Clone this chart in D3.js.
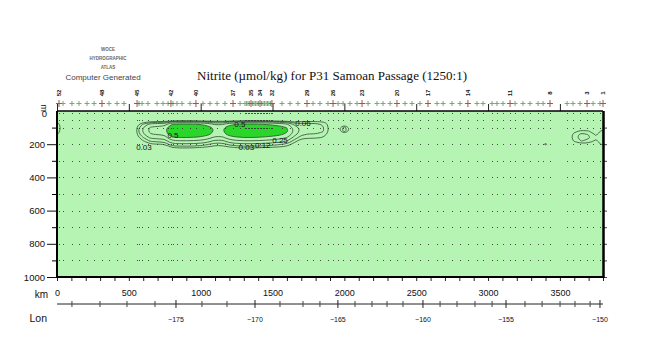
<!DOCTYPE html>
<html><head><meta charset="utf-8">
<script src="https://cdn.jsdelivr.net/npm/d3@7"></script>
<style>body{margin:0;background:#fff;} svg{display:block;}</style>
</head><body>
<svg id="c" width="650" height="350"></svg>
<script>
// ---------------- data ----------------
const kmTicks = [0, 500, 1000, 1500, 2000, 2500, 3000, 3500];
const kmMinorTicks = d3.range(0, 3801, 100);
const depthTicks = [200, 400, 600, 800, 1000];
const depthMinorTicks = [100, 300, 500, 700, 900];
const lonMajor = [-175, -170, -165, -160, -155, -150];
const lonMajorKm = [828, 1378, 1955, 2547, 3125, 3779];
const lonMinorKm = [104, 299, 487, 682, 1009, 1183, 1552, 1712, 1830, 2074, 2192, 2297, 2408, 2666, 2784, 2909, 3028, 3257, 3376, 3501, 3605, 3710];
const stationKm = [14, 42, 104, 153, 209, 258, 313, 362, 418, 466, 557, 571, 592, 633, 696, 738, 773, 793, 807, 835, 870, 926, 967, 1016, 1065, 1114, 1169, 1225, 1274, 1308, 1350, 1413, 1496, 1566, 1622, 1677, 1740, 1782, 1830, 1886, 1921, 1956, 1991, 2039, 2088, 2123, 2165, 2227, 2269, 2318, 2366, 2422, 2471, 2526, 2582, 2645, 2687, 2749, 2805, 2860, 2923, 2965, 3028, 3062, 3104, 3153, 3188, 3243, 3292, 3348, 3383, 3431, 3550, 3591, 3640, 3689, 3731, 3779, 3800];
const clusterKm = [1318, 1329, 1339, 1360, 1371, 1381, 1392, 1402, 1423, 1434, 1444, 1455, 1465, 1475, 1486];
const labeledKm = [14, 313, 557, 793, 967, 1225, 1350, 1413, 1496, 1740, 1921, 2123, 2366, 2582, 2860, 3153, 3431, 3689, 3800];
const labeledNum = ["52", "48", "45", "42", "40", "37", "35", "34", "32", "29", "26", "23", "20", "17", "14", "11", "8", "3", "1"];
const dotDepths = [15, 55, 100, 200, 300, 400, 500, 600, 700, 800, 900];
const shallowDepths = [15, 55, 100];

// nitrite grid (umol/kg): columns at gridKm, one array per depth
const gridKm = [0, 50, 500, 550, 600, 650, 700, 750, 800, 850, 900, 950, 1000, 1050, 1100, 1150, 1200, 1250, 1300, 1350, 1400, 1450, 1500, 1550, 1600, 1650, 1700, 1750, 1800, 1850, 1900, 1950, 2000, 2050, 3350, 3400, 3450, 3550, 3600, 3650, 3700, 3750, 3800];
const gridDepth = [40, 60, 70, 80, 100, 120, 140, 160, 180, 200, 220, 250];
const no2_40  = [0,0, 0,0,0,0,0,0, 0,0,0,0,0,0, 0,0,0,0,0,0, 0,0,0,0,0,0, 0,0,0,0,0,0,0,0, 0,0,0, 0,0,0,0,0,0];
const no2_60  = [0,0, 0,0.001,0.004,0.009,0.01,0.011, 0.028,0.033,0.033,0.032,0.029,0.022, 0.014,0.014,0.024,0.029,0.033,0.033, 0.032,0.029,0.026,0.022,0.017,0.006, 0.02,0.02,0.02,0.015,0.005,0,0,0, 0,0,0, 0,0,0,0,0,0];
const no2_70  = [0.035,0, 0,0.004,0.026,0.06,0.066,0.072, 0.2,0.22,0.22,0.21,0.19,0.144, 0.09,0.09,0.16,0.2,0.22,0.22, 0.21,0.19,0.17,0.144,0.11,0.04, 0.05,0.05,0.05,0.04,0.012,0,0,0, 0,0,0, 0,0,0,0,0,0];
const no2_80  = [0.045,0, 0,0.01,0.065,0.15,0.165,0.18, 0.49,0.55,0.55,0.525,0.475,0.36, 0.225,0.225,0.4,0.49,0.55,0.55, 0.525,0.475,0.425,0.36,0.275,0.1, 0.07,0.07,0.07,0.055,0.015,0,0.01,0, 0,0,0, 0,0,0,0,0,0];
const no2_100 = [0.055,0, 0,0.018,0.117,0.27,0.297,0.324, 0.9,0.99,0.99,0.945,0.855,0.648, 0.405,0.405,0.72,0.9,0.99,0.99, 0.945,0.855,0.765,0.648,0.495,0.18, 0.09,0.08,0.08,0.065,0.018,0,0.08,0, 0,0,0, 0,0,0,0,0,0];
const no2_120 = [0.05,0, 0,0.02,0.13,0.3,0.33,0.36, 1.0,1.1,1.1,1.05,0.95,0.72, 0.45,0.45,0.8,1.0,1.1,1.1, 1.05,0.95,0.85,0.72,0.55,0.2, 0.09,0.08,0.08,0.065,0.018,0,0.08,0, 0,0,0, 0,0.02,0.035,0.03,0.01,0.04];
const no2_140 = [0.035,0, 0,0.016,0.104,0.24,0.264,0.288, 0.8,0.88,0.88,0.84,0.76,0.576, 0.36,0.36,0.64,0.8,0.88,0.88, 0.84,0.76,0.68,0.576,0.44,0.16, 0.07,0.058,0.058,0.05,0.014,0,0.01,0, 0,0,0, 0,0.04,0.07,0.058,0.025,0.05];
const no2_160 = [0,0, 0,0.009,0.059,0.135,0.149,0.162, 0.45,0.495,0.495,0.473,0.428,0.324, 0.203,0.203,0.36,0.45,0.495,0.495, 0.473,0.428,0.383,0.324,0.248,0.09, 0.04,0.035,0.035,0.028,0.008,0,0,0, 0,0,0, 0,0.045,0.08,0.065,0.035,0.04];
const no2_180 = [0,0, 0,0.004,0.029,0.066,0.073,0.079, 0.22,0.242,0.242,0.231,0.209,0.158, 0.099,0.099,0.176,0.22,0.242,0.242, 0.231,0.209,0.187,0.158,0.121,0.044, 0.015,0.01,0.01,0.008,0,0,0,0, 0,0,0, 0,0.035,0.062,0.05,0.025,0.05];
const no2_200 = [0,0, 0,0.002,0.012,0.027,0.029,0.032, 0.09,0.099,0.099,0.095,0.086,0.065, 0.041,0.041,0.072,0.09,0.099,0.099, 0.095,0.086,0.077,0.065,0.05,0.018, 0.005,0,0,0,0,0,0,0, 0,0.04,0, 0,0.01,0.02,0.015,0.01,0.04];
const no2_220 = [0,0, 0,0,0.004,0.009,0.01,0.011, 0.029,0.033,0.033,0.032,0.029,0.022, 0.014,0.014,0.024,0.031,0.033,0.033, 0.032,0.029,0.026,0.022,0.017,0.006, 0,0,0,0,0,0,0,0, 0,0,0, 0,0,0,0,0,0.01];
const no2_250 = [0,0, 0,0,0,0,0,0, 0,0,0,0,0,0, 0,0,0,0,0,0, 0,0,0,0,0,0, 0,0,0,0,0,0,0,0, 0,0,0, 0,0,0,0,0,0];
const contourLevels = [0.03, 0.06, 0.12, 0.25, 0.5];
const labelText  = ["0.5", "0.5", "0.06", "0.03", "0.03", "0.12", "0.25"];
const labelKm    = [807, 1273, 1712, 605, 1318, 1432, 1552];
const labelDepth = [150, 84, 78, 217, 220, 208, 176];

// ---------------- drawing ----------------
const svg = d3.select("#c");
const x = d3.scaleLinear().domain([0, 3800]).range([57, 603]);
const y = d3.scaleLinear().domain([0, 1000]).range([111, 277]);
const SANS = "'Liberation Sans', Arial, sans-serif";

svg.append("defs").append("clipPath").attr("id", "plotclip")
  .append("rect").attr("x", x(0)).attr("y", y(0))
  .attr("width", x(3800) - x(0)).attr("height", y(1000) - y(0));

svg.append("rect").attr("x", x(0)).attr("y", y(0))
  .attr("width", x(3800) - x(0)).attr("height", y(1000) - y(0))
  .attr("fill", "#b6f4b4");

// contours
const rows = [no2_40, no2_60, no2_70, no2_80, no2_100, no2_120, no2_140, no2_160, no2_180, no2_200, no2_220, no2_250];
const nx = gridKm.length, ny = gridDepth.length;
const iKm = d3.scaleLinear().domain(d3.range(nx)).range(gridKm).clamp(true);
const iDep = d3.scaleLinear().domain(d3.range(ny)).range(gridDepth).clamp(true);
const cont = d3.contours().size([nx, ny]).thresholds(contourLevels)(rows.flat());
const ringLine = d3.line().curve(d3.curveBasisClosed);
function ringPath(ring) {
  const pts = ring.slice(0, -1).map(([cx, cy]) => [x(iKm(cx - 0.5)), y(iDep(cy - 0.5))]);
  return ringLine(pts);
}
function mpPath(mp) { return mp.coordinates.map(poly => poly.map(ringPath).join("")).join(""); }

const cg = svg.append("g").attr("clip-path", "url(#plotclip)");
cg.selectAll("path.fill").data(cont.filter(c => c.value === 0.5)).join("path")
  .attr("class", "fill").attr("d", mpPath).attr("fill", "#2bd62b").attr("fill-rule", "evenodd");
cg.selectAll("path.line").data(cont).join("path")
  .attr("class", "line").attr("d", mpPath).attr("fill", "none")
  .attr("stroke", "#2f4a2f").attr("stroke-width", 0.8);

// sample dots
const dg = svg.append("g").attr("fill", "#333").attr("fill-opacity", 0.85);
stationKm.forEach(k => dotDepths.forEach(d =>
  dg.append("rect").attr("x", Math.round(x(k))).attr("y", Math.round(y(d))).attr("width", 1).attr("height", 1)));
clusterKm.forEach(k => shallowDepths.forEach(d =>
  dg.append("rect").attr("x", Math.round(x(k))).attr("y", Math.round(y(d))).attr("width", 1).attr("height", 1)));

// contour labels
svg.append("g").selectAll("text").data(labelText).join("text")
  .attr("x", (t, i) => x(labelKm[i])).attr("y", (t, i) => y(labelDepth[i]))
  .attr("text-anchor", "middle").attr("dominant-baseline", "central")
  .attr("font-family", SANS).attr("font-size", 8).attr("fill", "#111").text(t => t);

// left axis
const la = svg.append("g").attr("transform", `translate(${x(0)},0)`)
  .call(d3.axisLeft(y).tickValues(depthTicks).tickSize(10).tickPadding(2).tickFormat(d3.format("d")));
la.select(".domain").remove();
la.selectAll("text").attr("font-family", SANS).attr("font-size", 9.5).attr("fill", "#111");
la.selectAll("line").attr("stroke", "#111");
const lm = svg.append("g").attr("transform", `translate(${x(0)},0)`)
  .call(d3.axisLeft(y).tickValues(depthMinorTicks).tickSize(5).tickFormat(""));
lm.select(".domain").remove();
// right ticks
const ra = svg.append("g").attr("transform", `translate(${x(3800)},0)`)
  .call(d3.axisRight(y).tickValues(depthMinorTicks.concat(depthTicks)).tickSize(4).tickFormat(""));
ra.select(".domain").remove();
ra.selectAll("line").attr("stroke", "#444");

// top-left "0" and "m"
svg.append("text").attr("x", 47).attr("y", y(0) + 2).attr("text-anchor", "end")
  .attr("dominant-baseline", "central").attr("font-family", SANS).attr("font-size", 9.5).attr("fill", "#111").text("0");
svg.append("text").attr("transform", `translate(44,${y(0) - 3}) rotate(90)`).attr("text-anchor", "middle")
  .attr("dominant-baseline", "central").attr("font-family", SANS).attr("font-size", 9).attr("fill", "#111").text("m");

// bottom km axis
const ba = svg.append("g").attr("transform", `translate(0,${y(1000)})`)
  .call(d3.axisBottom(x).tickValues(kmMinorTicks).tickSize(4).tickPadding(9)
    .tickFormat(d => kmTicks.includes(d) ? d : ""));
ba.select(".domain").remove();
ba.selectAll("text").attr("font-family", SANS).attr("font-size", 9).attr("fill", "#111");
ba.selectAll("line").attr("stroke", "#222");

// top km ticks
const ta = svg.append("g").attr("transform", `translate(0,${y(0)})`)
  .call(d3.axisTop(x).tickValues(kmTicks).tickSize(7).tickFormat(""));
ta.select(".domain").remove();
ta.selectAll("line").attr("stroke", "#222");

// frame
const fr = svg.append("g").attr("stroke", "#000").attr("fill", "none");
fr.append("line").attr("x1", x(0)).attr("x2", x(3800)).attr("y1", y(0)).attr("y2", y(0)).attr("stroke-width", 1.6);
fr.append("line").attr("x1", x(0)).attr("x2", x(3800) + 1).attr("y1", y(1000)).attr("y2", y(1000)).attr("stroke-width", 2);
fr.append("line").attr("x1", x(0)).attr("x2", x(0)).attr("y1", y(0)).attr("y2", y(1000) + 1).attr("stroke-width", 2);
fr.append("line").attr("x1", x(3800) + 0.5).attr("x2", x(3800) + 0.5).attr("y1", y(0)).attr("y2", y(1000) + 1).attr("stroke-width", 2.5);

// station markers
const sg = svg.append("g");
const allSt = stationKm.concat(clusterKm).filter(k => !labeledKm.includes(k));
sg.selectAll("path.st").data(allSt).join("path").attr("class", "st")
  .attr("d", k => `M${x(k) - 2.5},103.5h5M${x(k)},101v5`)
  .attr("stroke", "#78a878").attr("stroke-width", 1).attr("fill", "none");
sg.selectAll("path.lab").data(labeledKm).join("path").attr("class", "lab")
  .attr("d", k => `M${x(k) - 3},103.5h6M${x(k)},100v7`)
  .attr("stroke", "#a05a40").attr("stroke-width", 1).attr("fill", "none");
sg.selectAll("text").data(labeledNum).join("text")
  .attr("transform", (t, i) => `translate(${x(labeledKm[i])},93) rotate(-90)`)
  .attr("text-anchor", "middle").attr("dominant-baseline", "central")
  .attr("font-family", SANS).attr("font-weight", "bold").attr("font-size", 6).attr("fill", "#111").text(t => t);

// lon axis
const lg = svg.append("g");
lg.append("line").attr("x1", x(0)).attr("x2", x(3800)).attr("y1", 304).attr("y2", 304).attr("stroke", "#222");
lg.selectAll("line.mn").data(lonMinorKm).join("line").attr("class", "mn")
  .attr("x1", k => x(k)).attr("x2", k => x(k)).attr("y1", 301).attr("y2", 307).attr("stroke", "#444");
lg.selectAll("line.mj").data(lonMajorKm).join("line").attr("class", "mj")
  .attr("x1", k => x(k)).attr("x2", k => x(k)).attr("y1", 300).attr("y2", 308).attr("stroke", "#222");
lg.selectAll("text").data(lonMajor).join("text")
  .attr("x", (v, i) => x(lonMajorKm[i])).attr("y", 319)
  .attr("text-anchor", "middle").attr("dominant-baseline", "central")
  .attr("font-family", SANS).attr("font-size", 7).attr("fill", "#111").text(v => "\u2212" + Math.abs(v));

// axis names
svg.append("text").attr("x", 48).attr("y", 294).attr("text-anchor", "end").attr("dominant-baseline", "central")
  .attr("font-family", SANS).attr("font-size", 10).attr("fill", "#111").text("km");
svg.append("text").attr("x", 47).attr("y", 318).attr("text-anchor", "end").attr("dominant-baseline", "central")
  .attr("font-family", SANS).attr("font-size", 10.5).attr("fill", "#111").text("Lon");

// title
svg.append("text").attr("x", 332).attr("y", 76).attr("text-anchor", "middle").attr("dominant-baseline", "central")
  .attr("font-family", "'Liberation Serif', 'Times New Roman', serif").attr("font-size", 12.5)
  .attr("textLength", 270).attr("lengthAdjust", "spacingAndGlyphs").attr("fill", "#111")
  .text("Nitrite (\u00b5mol/kg) for P31 Samoan Passage (1250:1)");

// logo
const logo = svg.append("g").attr("text-anchor", "middle").attr("fill", "#666").attr("font-family", SANS);
logo.append("text").attr("x", 108).attr("y", 49).attr("dominant-baseline", "central").attr("font-size", 4.5).attr("font-weight", "bold").text("WOCE");
logo.append("text").attr("x", 108).attr("y", 58).attr("dominant-baseline", "central").attr("font-size", 4.5).attr("font-weight", "bold").text("HYDROGRAPHIC");
logo.append("text").attr("x", 108).attr("y", 67).attr("dominant-baseline", "central").attr("font-size", 4.5).attr("font-weight", "bold").text("ATLAS");
logo.append("text").attr("x", 103).attr("y", 77).attr("dominant-baseline", "central").attr("font-size", 8).attr("fill", "#444").text("Computer Generated");
</script>
</body></html>
